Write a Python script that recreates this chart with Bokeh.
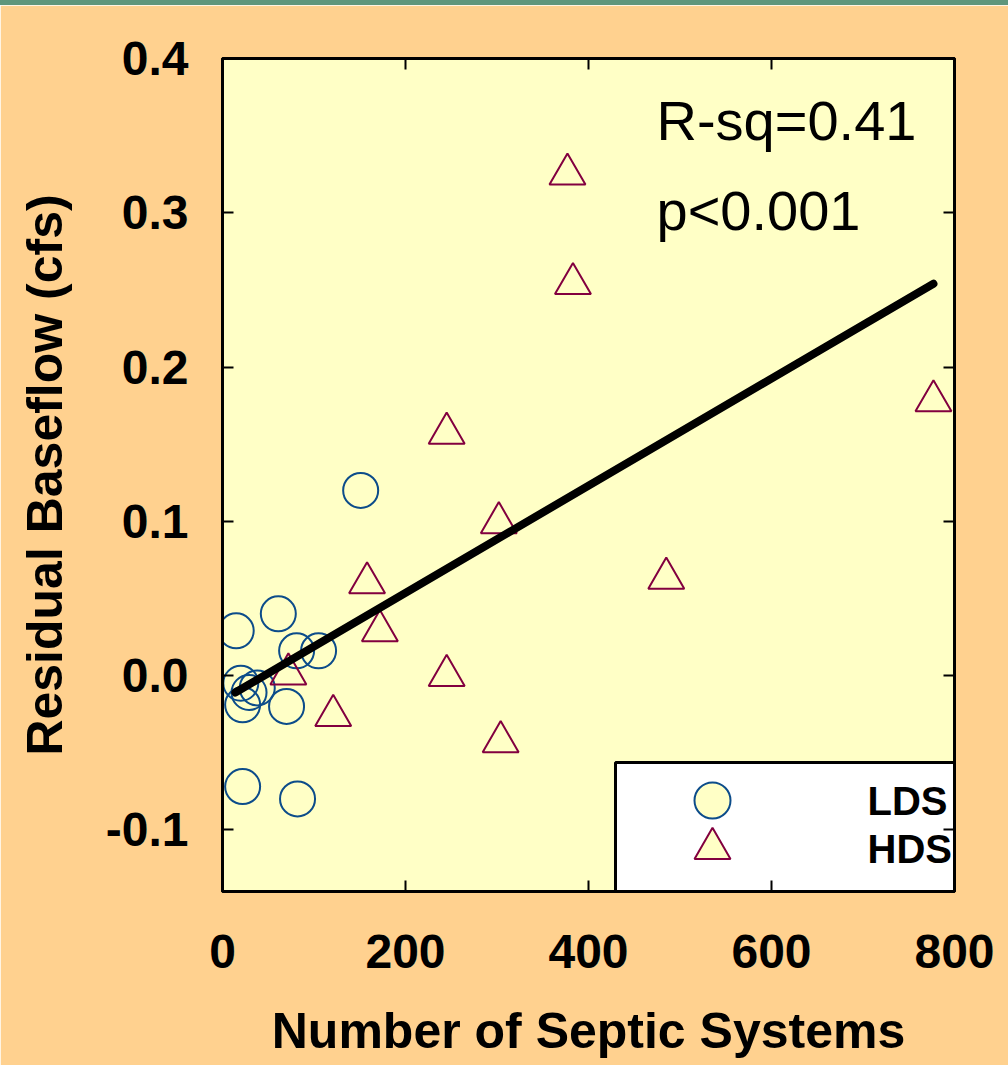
from bokeh.plotting import figure
from bokeh.models import (Range1d, LinearAxis, FixedTicker, NumeralTickFormatter,
                          CustomJSTickFormatter, Label, Div)
from bokeh.layouts import column
from bokeh.embed import file_html
from bokeh.resources import INLINE

# ---------------- data ----------------
lds_x = [15, 61, 151, 81, 105, 20, 29, 38, 22, 70, 22, 82]
lds_y = [0.029, 0.040, 0.120, 0.016, 0.016, -0.005, -0.011, -0.008, -0.019, -0.020, -0.072, -0.080]

hds_x = [377, 383, 245, 302, 485, 158, 172, 72, 245, 121, 304, 777]
hds_y = [0.325, 0.254, 0.157, 0.099, 0.063, 0.060, 0.029, 0.001, 0.000, -0.026, -0.043, 0.178]

fit_x = [14, 777]
fit_y = [-0.011, 0.254]

x_ticks = [0, 200, 400, 600, 800]
y_ticks = [-0.1, 0.0, 0.1, 0.2, 0.3, 0.4]

x_title = "Number of Septic Systems"
y_title = "Residual Baseflow (cfs)"
stat_lines = ["R-sq=0.41", "p<0.001"]
legend_labels = ["LDS", "HDS"]

# ---------------- style ----------------
BG = "#FFD18F"
PLOT_BG = "#FFFFC6"
TEAL = "#5F967C"
BLUE = "#0C4C8A"
MAROON = "#82003F"
FONT = "Liberation Sans"

X0, X1 = 0, 800
Y0, Y1 = -0.14, 0.40
FRAME_W, FRAME_H = 732, 833

p = figure(width=1008, height=1060, x_range=Range1d(X0, X1), y_range=Range1d(Y0, Y1),
           output_backend="svg", toolbar_location=None,
           min_border_left=222, min_border_right=54, min_border_top=53, min_border_bottom=174,
           background_fill_color=PLOT_BG, border_fill_color=BG)
p.grid.visible = False
p.outline_line_color = "black"
p.outline_line_width = 3

def style_axis(ax, ticks, show_labels):
    ax.ticker = FixedTicker(ticks=ticks)
    ax.major_tick_in = 11
    ax.major_tick_out = 0
    ax.major_tick_line_width = 2
    ax.major_tick_line_color = "black"
    ax.minor_tick_line_color = None
    ax.axis_line_color = "black"
    ax.axis_line_width = 3
    if show_labels:
        ax.major_label_text_font = FONT
        ax.major_label_text_font_style = "bold"
        ax.major_label_text_font_size = "48px"
        ax.major_label_text_color = "black"
    else:
        ax.formatter = CustomJSTickFormatter(code="return '';")
        ax.major_label_text_font_size = "10px"
        ax.major_label_standoff = 0

xa = p.xaxis[0]
ya = p.yaxis[0]
style_axis(xa, x_ticks, True)
style_axis(ya, y_ticks, True)
ya.formatter = NumeralTickFormatter(format="0.0")
xa.major_label_standoff = 43
ya.major_label_standoff = 34

xa.axis_label = x_title
ya.axis_label = y_title
for ax, so in ((xa, 32), (ya, 30)):
    ax.axis_label_text_font = FONT
    ax.axis_label_text_font_style = "bold"
    ax.axis_label_text_font_size = "50px"
    ax.axis_label_text_color = "black"
    ax.axis_label_standoff = so

top_ax = LinearAxis()
style_axis(top_ax, x_ticks, False)
p.add_layout(top_ax, "above")
right_ax = LinearAxis()
style_axis(right_ax, y_ticks, False)
p.add_layout(right_ax, "right")

# ---------------- glyphs ----------------
p.scatter(lds_x, lds_y, marker="circle", size=35, fill_color=None,
          line_color=BLUE, line_width=2)
p.scatter(hds_x, hds_y, marker="triangle", size=36, fill_color=None,
          line_color=MAROON, line_width=2)
p.line(fit_x, fit_y, line_color="black", line_width=8, line_cap="round")

# layout helpers: frame pixel offsets -> data units
def fx(px):
    return X0 + px / FRAME_W * (X1 - X0)

def fy(py):
    return Y0 + py / FRAME_H * (Y1 - Y0)

for txt, base in zip(stat_lines, (771, 681)):
    p.add_layout(Label(x=fx(434), y=fy(base), text=txt, text_font=FONT,
                       text_font_size="56px", text_color="black",
                       text_baseline="alphabetic", text_align="left"))

# ---------------- legend (drawn box) ----------------
p.quad(left=[fx(393)], right=[fx(FRAME_W)], bottom=[fy(0)], top=[fy(129)],
       fill_color="white", line_color="black", line_width=3)
leg_rows = [91, 43]
p.scatter([fx(490)], [fy(leg_rows[0])], marker="circle", size=36, fill_color=PLOT_BG,
          line_color=BLUE, line_width=2)
p.scatter([fx(490)], [fy(leg_rows[1])], marker="triangle", size=36, fill_color=PLOT_BG,
          line_color=MAROON, line_width=2)
for lab, row in zip(legend_labels, leg_rows):
    p.add_layout(Label(x=fx(645), y=fy(row), text=lab, text_font=FONT,
                       text_font_style="bold", text_font_size="40px", text_color="black",
                       text_baseline="middle", text_align="left"))

band = Div(text="", width=1008, height=5, margin=0,
           styles={"background-color": TEAL})
layout = column(band, p, spacing=0)

open("out.html", "w").write(file_html(layout, INLINE))
